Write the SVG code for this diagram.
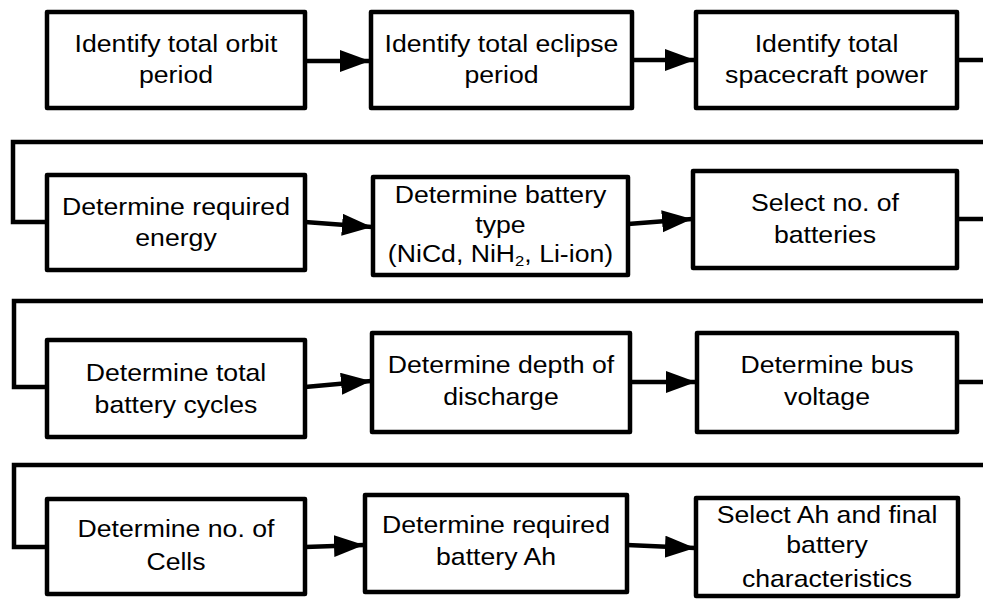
<svg xmlns="http://www.w3.org/2000/svg" width="983" height="599" viewBox="0 0 983 599">
  <style>
    .box { fill: #ffffff; stroke: #000000; stroke-width: 4.5; stroke-linejoin: round; }
    .link { fill: none; stroke: #000000; stroke-width: 4.5; stroke-linejoin: miter; }
    .lbl { font-family: "Liberation Sans", Arial, Helvetica, sans-serif; font-size: 24px; fill: #000000; text-anchor: middle; }
    .sub { font-size: 15px; }
  </style>
  <defs>
    <marker id="arrow" markerUnits="userSpaceOnUse" markerWidth="32" markerHeight="24" refX="30" refY="11" orient="auto">
      <path d="M0,0 L30,11 L0,22 Z" fill="#000000"/>
    </marker>
  </defs>

  <!-- connectors -->
  <g id="connectors">
    <line class="link" x1="305" y1="61" x2="370" y2="61" marker-end="url(#arrow)"/>
    <line class="link" x1="632" y1="60" x2="695" y2="60" marker-end="url(#arrow)"/>
    <path class="link" d="M957,60 H1000 V142 H13 V222 H47"/>

    <line class="link" x1="305" y1="222" x2="372" y2="227" marker-end="url(#arrow)"/>
    <line class="link" x1="628" y1="224" x2="692" y2="219" marker-end="url(#arrow)"/>
    <path class="link" d="M957,219 H1000 V301 H14 V387 H47"/>

    <line class="link" x1="305" y1="387" x2="371" y2="381" marker-end="url(#arrow)"/>
    <line class="link" x1="630" y1="382" x2="696" y2="382" marker-end="url(#arrow)"/>
    <path class="link" d="M957,382 H1000 V465 H14 V547 H47"/>

    <line class="link" x1="305" y1="547" x2="364" y2="545" marker-end="url(#arrow)"/>
    <line class="link" x1="627" y1="545" x2="695" y2="548" marker-end="url(#arrow)"/>
  </g>

  <!-- row 1 -->
  <g id="orbit-period">
    <rect class="box" x="47" y="12" width="258" height="96"/>
    <text class="lbl" transform="matrix(1.11 0 0 1 176 0)"><tspan x="0" y="52">Identify total orbit</tspan><tspan x="0" y="83">period</tspan></text>
  </g>
  <g id="eclipse-period">
    <rect class="box" x="371" y="12" width="261" height="96"/>
    <text class="lbl" transform="matrix(1.11 0 0 1 501.5 0)"><tspan x="0" y="52">Identify total eclipse</tspan><tspan x="0" y="83">period</tspan></text>
  </g>
  <g id="spacecraft-power">
    <rect class="box" x="696" y="12" width="261" height="96"/>
    <text class="lbl" transform="matrix(1.11 0 0 1 826.5 0)"><tspan x="0" y="52">Identify total</tspan><tspan x="0" y="83">spacecraft power</tspan></text>
  </g>

  <!-- row 2 -->
  <g id="required-energy">
    <rect class="box" x="47" y="175" width="258" height="95"/>
    <text class="lbl" transform="matrix(1.11 0 0 1 176 0)"><tspan x="0" y="215">Determine required</tspan><tspan x="0" y="246">energy</tspan></text>
  </g>
  <g id="battery-type">
    <rect class="box" x="373" y="177" width="255" height="98"/>
    <text class="lbl" transform="matrix(1.11 0 0 1 500.5 0)"><tspan x="0" y="203">Determine battery</tspan><tspan x="0" y="233">type</tspan><tspan x="0" y="262">(NiCd, NiH<tspan class="sub" dy="4">2</tspan><tspan dy="-4">, Li-ion)</tspan></tspan></text>
  </g>
  <g id="no-of-batteries">
    <rect class="box" x="693" y="171" width="264" height="97"/>
    <text class="lbl" transform="matrix(1.11 0 0 1 825 0)"><tspan x="0" y="211">Select no. of</tspan><tspan x="0" y="243">batteries</tspan></text>
  </g>

  <!-- row 3 -->
  <g id="battery-cycles">
    <rect class="box" x="47" y="340" width="258" height="97"/>
    <text class="lbl" transform="matrix(1.11 0 0 1 176 0)"><tspan x="0" y="381">Determine total</tspan><tspan x="0" y="413">battery cycles</tspan></text>
  </g>
  <g id="depth-of-discharge">
    <rect class="box" x="372" y="333" width="258" height="99"/>
    <text class="lbl" transform="matrix(1.11 0 0 1 501 0)"><tspan x="0" y="373">Determine depth of</tspan><tspan x="0" y="405">discharge</tspan></text>
  </g>
  <g id="bus-voltage">
    <rect class="box" x="697" y="333" width="260" height="99"/>
    <text class="lbl" transform="matrix(1.11 0 0 1 827 0)"><tspan x="0" y="373">Determine bus</tspan><tspan x="0" y="405">voltage</tspan></text>
  </g>

  <!-- row 4 -->
  <g id="no-of-cells">
    <rect class="box" x="47" y="499" width="258" height="95"/>
    <text class="lbl" transform="matrix(1.11 0 0 1 176 0)"><tspan x="0" y="537">Determine no. of</tspan><tspan x="0" y="570">Cells</tspan></text>
  </g>
  <g id="battery-ah">
    <rect class="box" x="365" y="495" width="262" height="97"/>
    <text class="lbl" transform="matrix(1.11 0 0 1 496 0)"><tspan x="0" y="533">Determine required</tspan><tspan x="0" y="565">battery Ah</tspan></text>
  </g>
  <g id="final-characteristics">
    <rect class="box" x="696" y="498" width="262" height="98"/>
    <text class="lbl" transform="matrix(1.11 0 0 1 827 0)"><tspan x="0" y="523">Select Ah and final</tspan><tspan x="0" y="553">battery</tspan><tspan x="0" y="587">characteristics</tspan></text>
  </g>
</svg>
